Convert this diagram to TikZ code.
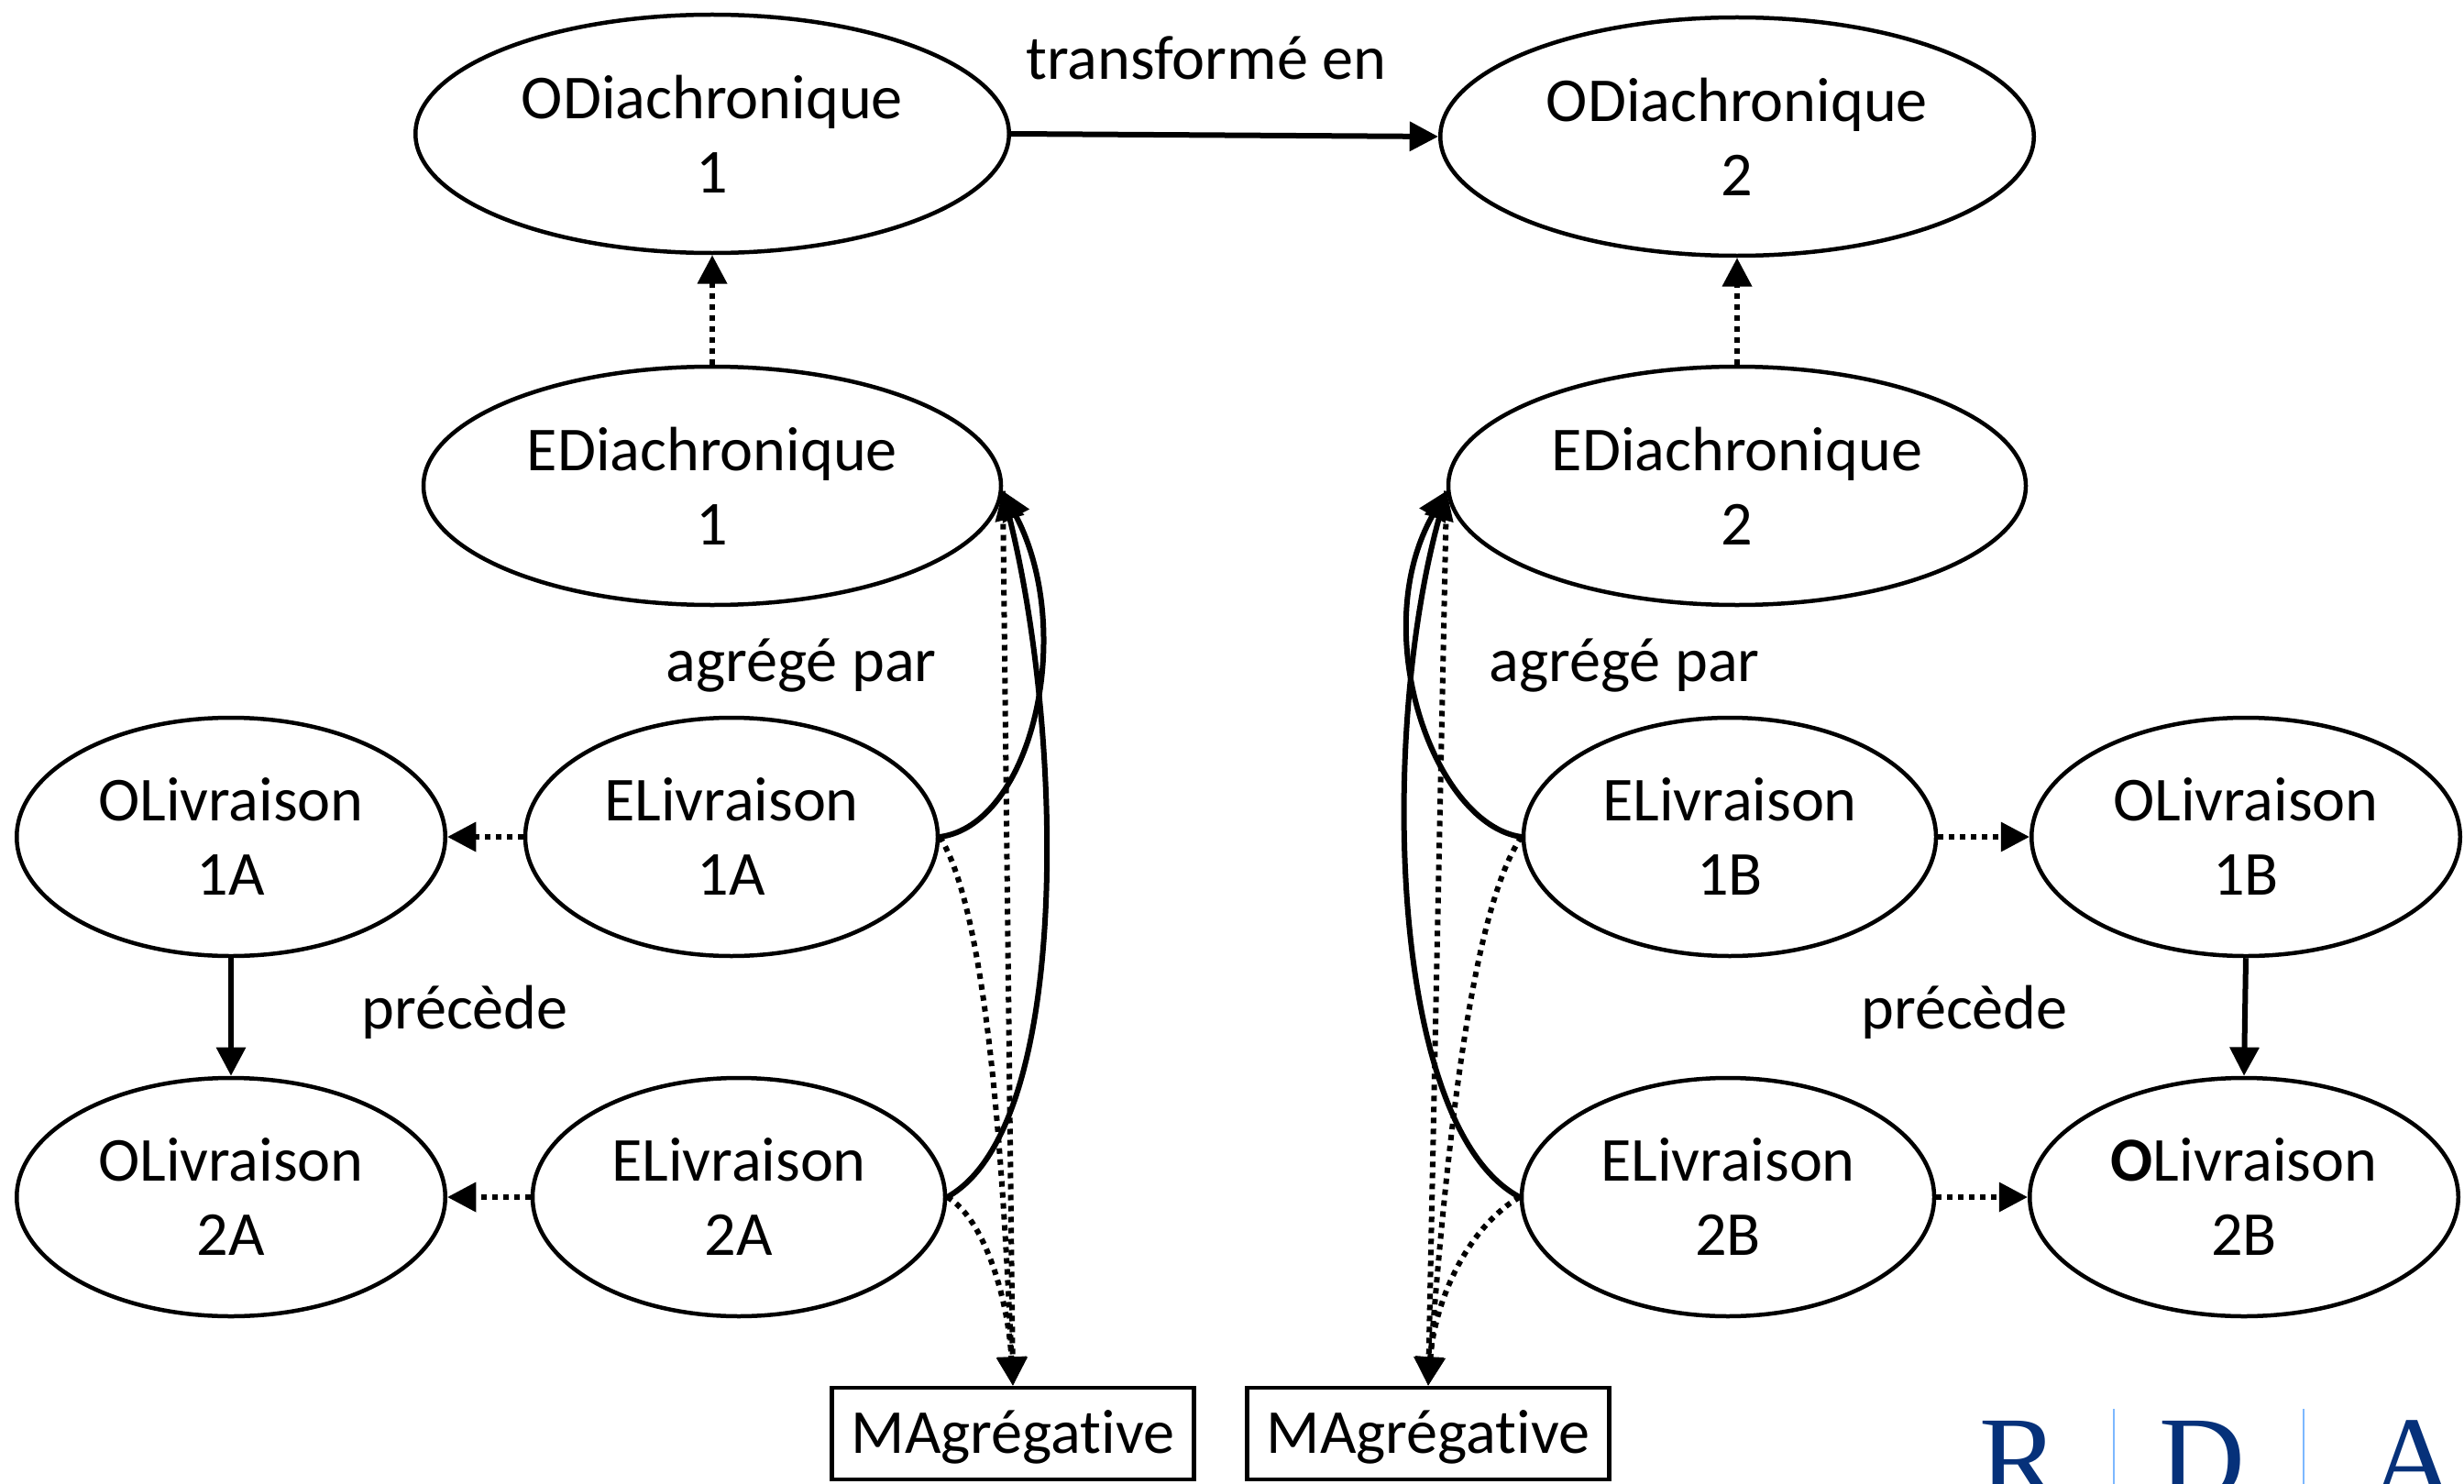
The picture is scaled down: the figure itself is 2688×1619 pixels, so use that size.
\documentclass[tikz,border=0pt]{standalone}
\usepackage{fontspec}
\setmainfont[Ligatures=NoCommon]{Carlito}
\newfontfamily\logofont{Liberation Serif}
\usetikzlibrary{shapes.geometric,arrows.meta}
\definecolor{logonavy}{HTML}{06317A}
\definecolor{logosep}{HTML}{7DB8FF}
\tikzset{
  ell/.style={draw,ellipse,line width=1.8pt,inner sep=0pt,align=center,font=\fontsize{27.3}{32.4}\selectfont},
  wide/.style={ell,minimum width=259pt,minimum height=104pt},
  mid/.style={ell,minimum width=252pt,minimum height=104pt},
  slim/.style={ell,minimum width=187pt,minimum height=104pt},
  elv/.style={ell,minimum width=180pt,minimum height=104pt},
  mbox/.style={draw,rectangle,line width=1.8pt,inner sep=0pt,text height=24pt,text depth=6.5pt,minimum width=158pt,minimum height=40pt,font=\fontsize{27.3}{32.4}\selectfont},
  lab/.style={inner sep=0pt,font=\fontsize{27.3}{32.4}\selectfont},
  tip/.style={-{Triangle[length=12.5pt,width=12.5pt]}},
  solidc/.style={tip,line width=2.4pt},
  dotc/.style={tip,line width=2.4pt,dash pattern=on 2.4pt off 2.4pt},
  logol/.style={inner sep=0pt,anchor=base west,text=logonavy,font=\logofont\fontsize{52}{52}\selectfont},
  logosepl/.style={logosep,line width=0.8pt}
}
\begin{document}
\begin{tikzpicture}[x=0.4pt,y=-0.4pt]
\useasboundingbox (0,0) rectangle (2688,1619);
\clip (0,0) rectangle (2688,1619);
\node[wide] (od1) at (777,146) {ODiachronique\\1};
\node[wide] (od2) at (1895,149) {ODiachronique\\2};
\node[mid] (ed1) at (777,530) {EDiachronique\\1};
\node[mid] (ed2) at (1895,530) {EDiachronique\\2};
\node[slim] (ol1a) at (252,913) {OLivraison\\1A};
\node[slim] (ol2a) at (252,1306) {OLivraison\\2A};
\node[elv] (el1a) at (798,913) {ELivraison\\1A};
\node[elv] (el2a) at (806,1306) {ELivraison\\2A};
\node[elv] (el1b) at (1887,913) {ELivraison\\1B};
\node[elv] (el2b) at (1885,1306) {ELivraison\\2B};
\node[slim] (ol1b) at (2450,913) {OLivraison\\1B};
\node[slim] (ol2b) at (2448,1306) {\textbf{O}Livraison\\2B};
\node[mbox] (ma1) at (1105,1564) {MAgrégative};
\node[mbox] (ma2) at (1558,1564) {MAgrégative};

\node[lab] (t1) at (1316,63) {transformé en};
\node[lab] (t2) at (874,726) {agrégé par};
\node[lab] (t3) at (1772,726) {agrégé par};
\node[lab] (t4) at (507,1104) {précède};
\node[lab] (t5) at (2143,1104) {précède};

\draw[solidc] (od1.east) -- (od2.west);
\draw[solidc] (ol1a.south) -- (ol2a.north);
\draw[solidc] (ol1b.south) -- (ol2b.north);
\draw[dotc] (ed1.north) -- (od1.south);
\draw[dotc] (ed2.north) -- (od2.south);
\draw[dotc] (el1a.west) -- (ol1a.east);
\draw[dotc] (el2a.west) -- (ol2a.east);
\draw[dotc] (el1b.east) -- (ol1b.west);
\draw[dotc] (el2b.east) -- (ol2b.west);

\draw[solidc] (el1a.east) .. controls (1125,900) and (1175,690) .. (ed1.-1.2);
\draw[solidc] (el2a.east) .. controls (1170,1230) and (1160,800) .. (ed1.-1.2);
\draw[solidc] (el1b.west) .. controls (1565,900) and (1490,690) .. (ed2.181.2);
\draw[solidc] (el2b.west) .. controls (1515,1230) and (1505,800) .. (ed2.181.2);
\draw[dotc] (ed1.-1.2) -- (ma1.north);
\draw[dotc] (el1a.east) .. controls (1080,1000) and (1095,1300) .. (ma1.north);
\draw[dotc] (el2a.east) .. controls (1075,1330) and (1100,1420) .. (ma1.north);
\draw[dotc] (ed2.181.2) -- (ma2.north);
\draw[dotc] (el1b.west) .. controls (1600,1000) and (1575,1300) .. (ma2.north);
\draw[dotc] (el2b.west) .. controls (1600,1340) and (1565,1420) .. (ma2.north);

\node[logol] (lr) at (2159,1635) {R};
\node[logol] (ld) at (2355,1635) {D};
\node[logol] (la) at (2585,1635) {A};
\coordinate (s1a) at (2306,1537);
\coordinate (s1b) at (2306,1619);
\coordinate (s2a) at (2513,1537);
\coordinate (s2b) at (2513,1619);
\draw[logosepl] (s1a) -- (s1b);
\draw[logosepl] (s2a) -- (s2b);
\end{tikzpicture}
\end{document}
